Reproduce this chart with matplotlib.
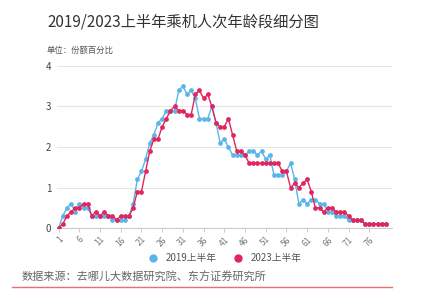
import numpy as np
import matplotlib
matplotlib.use('Agg')
import matplotlib.pyplot as plt
from matplotlib.lines import Line2D

plt.rcParams['font.family'] = ['Noto Sans CJK SC', 'DejaVu Sans']

# ages 1..80, share of passengers (%)
ages = np.arange(1, 81)
share_2019 = [0, 0.3, 0.5, 0.6, 0.4, 0.6, 0.5, 0.5, 0.3, 0.3,
              0.3, 0.3, 0.3, 0.2, 0.2, 0.2, 0.2, 0.3, 0.6, 1.2,
              1.4, 1.7, 2.1, 2.3, 2.6, 2.7, 2.9, 2.9, 2.9, 3.4,
              3.5, 3.3, 3.4, 3.2, 2.7, 2.7, 2.7, 3.0, 2.6, 2.1,
              2.2, 2.0, 1.8, 1.8, 1.8, 1.8, 1.9, 1.9, 1.8, 1.9,
              1.7, 1.8, 1.3, 1.3, 1.3, 1.4, 1.6, 1.2, 0.6, 0.7,
              0.6, 0.7, 0.7, 0.6, 0.6, 0.4, 0.4, 0.3, 0.3, 0.3,
              0.2, 0.2, 0.2, 0.2, 0.1, 0.1, 0.1, 0.1, 0.1, 0.1]
share_2023 = [0, 0.1, 0.3, 0.4, 0.5, 0.5, 0.6, 0.6, 0.3, 0.4,
              0.3, 0.4, 0.3, 0.3, 0.2, 0.3, 0.3, 0.3, 0.5, 0.9,
              0.9, 1.4, 1.9, 2.2, 2.2, 2.5, 2.7, 2.9, 3.0, 2.9,
              2.9, 2.8, 2.8, 3.3, 3.4, 3.2, 3.3, 3.0, 2.6, 2.5,
              2.5, 2.7, 2.3, 1.9, 1.9, 1.8, 1.6, 1.6, 1.6, 1.6,
              1.6, 1.6, 1.6, 1.6, 1.4, 1.4, 1.0, 1.1, 1.0, 1.1,
              1.2, 0.9, 0.5, 0.5, 0.4, 0.5, 0.5, 0.4, 0.4, 0.4,
              0.3, 0.2, 0.2, 0.2, 0.1, 0.1, 0.1, 0.1, 0.1, 0.1]
xticks = list(range(1, 80, 5))

blue = '#5BB5E9'
red = '#E0265E'
grey = '#666666'

fig = plt.figure(figsize=(4.25, 2.89), dpi=100)
ax = fig.add_axes([57 / 425, 1 - 228 / 289, (392 - 57) / 425, (228 - 66) / 289])

ax.plot(ages, share_2019, color=blue, lw=1.0, marker='o', ms=2.4, zorder=3)
ax.plot(ages, share_2023, color=red, lw=1.0, marker='o', ms=2.4, zorder=4)

ax.set_xlim(0.6, 81.5)
ax.set_ylim(0, 4)
ax.set_yticks([0, 1, 2, 3, 4])
ax.set_xticks(xticks)
ax.set_xticklabels([str(t) for t in xticks], rotation=45, ha='right', va='top',
                   rotation_mode='anchor')
ax.tick_params(axis='y', length=0, labelsize=7, colors='#444444', pad=4)
ax.tick_params(axis='x', length=3, color='#cccccc', labelsize=6, colors='#777777', pad=2)
ax.grid(axis='y', color='#e6e6e6', lw=0.8)
ax.set_axisbelow(True)
for side in ['top', 'right', 'left']:
    ax.spines[side].set_visible(False)
ax.spines['bottom'].set_color('#cccccc')
ax.spines['bottom'].set_linewidth(0.8)
ax.spines['bottom'].set_zorder(1)

handles = [Line2D([], [], color=blue, marker='o', ls='none', ms=5),
           Line2D([], [], color=red, marker='o', ls='none', ms=5)]
fig.legend(handles, ['2019上半年', '2023上半年'], loc='center',
           bbox_to_anchor=(222 / 425, 1 - 258 / 289), ncol=2, frameon=False,
           fontsize=7, handletextpad=0.3, columnspacing=1.2,
           labelcolor='#555555')

fig.text(47 / 425, 1 - 22 / 289, '2019/2023上半年乘机人次年龄段细分图',
         fontsize=11, color='#333333', va='center')
fig.text(47 / 425, 1 - 50 / 289, '单位：份额百分比', fontsize=6,
         color='#555555', va='center')
fig.text(22 / 425, 1 - 277 / 289, '数据来源：去哪儿大数据研究院、东方证券研究所',
         fontsize=8, color='#666666', va='center')
fig.add_artist(Line2D([12 / 425, 392 / 425], [1 - 287 / 289, 1 - 287 / 289],
                      color='#EE6E6E', lw=1.0))

fig.savefig('out.png', dpi=100)
